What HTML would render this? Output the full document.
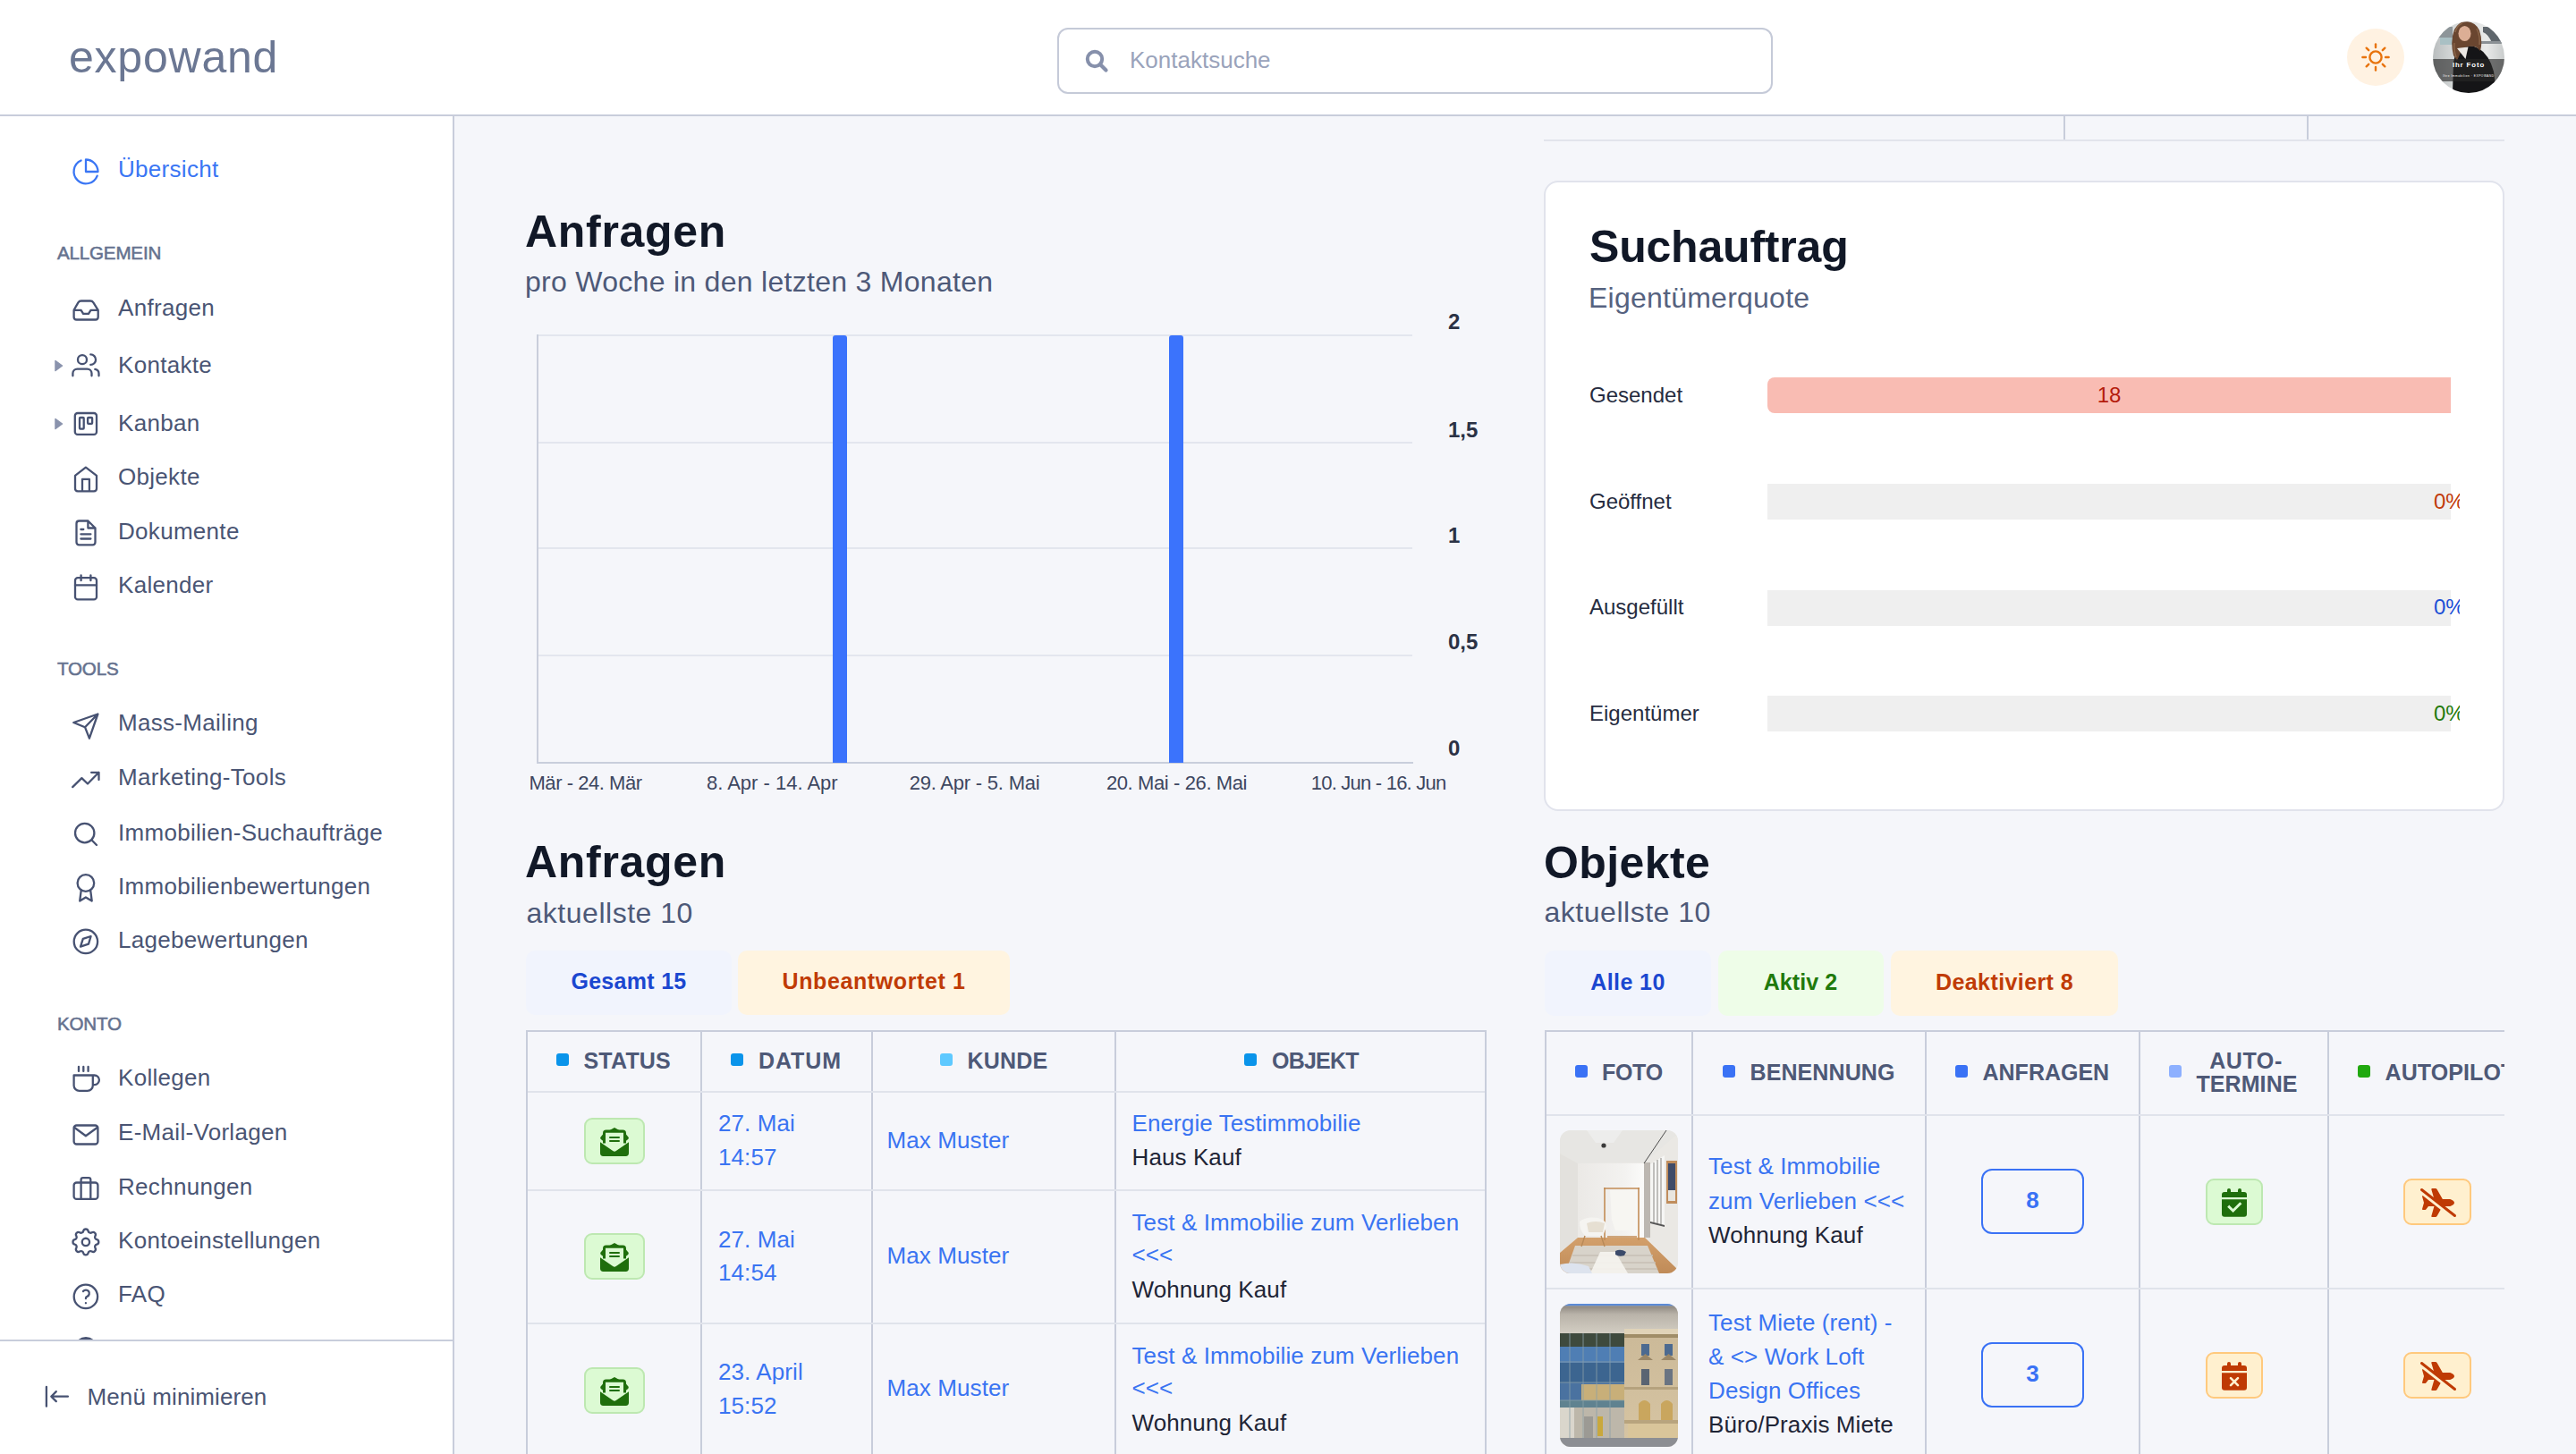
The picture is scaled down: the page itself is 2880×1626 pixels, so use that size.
<!DOCTYPE html>
<html lang="de"><head><meta charset="utf-8"><title>expowand – Übersicht</title>
<style>
html,body{margin:0;padding:0;}
body{width:2880px;height:1626px;overflow:hidden;position:relative;background:#f5f6fa;font-family:"Liberation Sans",Arial,sans-serif;}
.t{position:absolute;white-space:nowrap;line-height:1;}
.r{position:absolute;box-sizing:border-box;}
svg.r{overflow:visible;}
.ic{fill:none;stroke-linecap:round;stroke-linejoin:round;}
@media (max-width:1600px){body{zoom:0.5;}}
</style></head><body>

<div class="r" style="left:1726px;top:156px;width:1074px;height:2px;background:#e2e4ec;"></div>
<div class="r" style="left:2307px;top:128px;width:2px;height:28px;background:#c8cddb;"></div>
<div class="r" style="left:2579px;top:128px;width:2px;height:28px;background:#c8cddb;"></div>
<div class="t" style="left:587.0px;top:233.7px;font-size:50px;color:#111827;font-weight:700;letter-spacing:0.7px;">Anfragen</div>
<div class="t" style="left:587.0px;top:298.9px;font-size:32px;color:#4d5978;letter-spacing:0.29px;">pro Woche in den letzten 3 Monaten</div>
<div class="r" style="left:600px;top:374px;width:979px;height:2px;background:#e3e6ee;"></div>
<div class="r" style="left:600px;top:494px;width:979px;height:2px;background:#e3e6ee;"></div>
<div class="r" style="left:600px;top:612px;width:979px;height:2px;background:#e3e6ee;"></div>
<div class="r" style="left:600px;top:732px;width:979px;height:2px;background:#e3e6ee;"></div>
<div class="r" style="left:600px;top:852px;width:980px;height:2px;background:#c9cedb;"></div>
<div class="r" style="left:600px;top:374px;width:2px;height:480px;background:#c9cedb;"></div>
<div class="r" style="left:931px;top:375px;width:16px;height:478px;background:#3b73fc;border-radius:3px 3px 0 0;"></div>
<div class="r" style="left:1307px;top:375px;width:16px;height:478px;background:#3b73fc;border-radius:3px 3px 0 0;"></div>
<div class="t" style="left:1619.0px;top:347.7px;font-size:24px;color:#2b3245;font-weight:700;">2</div>
<div class="t" style="left:1619.0px;top:468.7px;font-size:24px;color:#2b3245;font-weight:700;">1,5</div>
<div class="t" style="left:1619.0px;top:586.7px;font-size:24px;color:#2b3245;font-weight:700;">1</div>
<div class="t" style="left:1619.0px;top:705.7px;font-size:24px;color:#2b3245;font-weight:700;">0,5</div>
<div class="t" style="left:1619.0px;top:824.7px;font-size:24px;color:#2b3245;font-weight:700;">0</div>
<div class="t" style="left:363.3px;width:1000px;text-align:center;top:865.4px;font-size:22px;color:#3d4660;letter-spacing:0px;">8. Apr - 14. Apr</div>
<div class="t" style="left:589.6px;width:1000px;text-align:center;top:865.4px;font-size:22px;color:#3d4660;letter-spacing:-0.21px;">29. Apr - 5. Mai</div>
<div class="t" style="left:815.5px;width:1000px;text-align:center;top:865.4px;font-size:22px;color:#3d4660;letter-spacing:-0.39px;">20. Mai - 26. Mai</div>
<div class="t" style="left:1041.1px;width:1000px;text-align:center;top:865.4px;font-size:22px;color:#3d4660;letter-spacing:-0.78px;">10. Jun - 16. Jun</div>
<div class="t" style="left:591.5px;top:865.4px;font-size:22px;color:#3d4660;letter-spacing:-0.46px;">Mär - 24. Mär</div>
<div class="r" style="left:1726px;top:202px;width:1074px;height:705px;background:#fff;border:2px solid #e1e3ec;border-radius:16px;"></div>
<div class="t" style="left:1777.0px;top:250.7px;font-size:50px;color:#111827;font-weight:700;letter-spacing:-0.2px;">Suchauftrag</div>
<div class="t" style="left:1776.0px;top:316.9px;font-size:32px;color:#56627f;letter-spacing:0.24px;">Eigentümerquote</div>
<div class="t" style="left:1777.0px;top:430.2px;font-size:24px;color:#262c40;font-family:"Liberation Sans",Arial,sans-serif;">Gesendet</div>
<div class="r" style="left:1976px;top:422px;width:764px;height:40px;background:#f9bcb3;border-radius:8px 0 0 8px;"></div>
<div class="t" style="left:1858.0px;width:1000px;text-align:center;top:430.2px;font-size:24px;color:#b41b0c;">18</div>
<div class="t" style="left:1777.0px;top:549.0px;font-size:24px;color:#262c40;font-family:"Liberation Sans",Arial,sans-serif;">Geöffnet</div>
<div class="r" style="left:1976px;top:541px;width:764px;height:40px;background:#efefef;"></div>
<div class="r" style="left:2721px;top:541px;width:29px;height:40px;overflow:hidden;"><div class="t" style="left:0;top:8.0px;font-size:24px;color:#c13a0a;">0%</div></div>
<div class="t" style="left:1777.0px;top:667.3px;font-size:24px;color:#262c40;font-family:"Liberation Sans",Arial,sans-serif;">Ausgefüllt</div>
<div class="r" style="left:1976px;top:660px;width:764px;height:40px;background:#efefef;"></div>
<div class="r" style="left:2721px;top:660px;width:29px;height:40px;overflow:hidden;"><div class="t" style="left:0;top:7.3px;font-size:24px;color:#1b4fd6;">0%</div></div>
<div class="t" style="left:1777.0px;top:786.0px;font-size:24px;color:#262c40;font-family:"Liberation Sans",Arial,sans-serif;">Eigentümer</div>
<div class="r" style="left:1976px;top:778px;width:764px;height:40px;background:#efefef;"></div>
<div class="r" style="left:2721px;top:778px;width:29px;height:40px;overflow:hidden;"><div class="t" style="left:0;top:8.0px;font-size:24px;color:#1f7a0b;">0%</div></div>
<div class="t" style="left:587.0px;top:938.7px;font-size:50px;color:#111827;font-weight:700;letter-spacing:0.7px;">Anfragen</div>
<div class="t" style="left:588.5px;top:1004.9px;font-size:32px;color:#4d5978;letter-spacing:0.52px;">aktuellste 10</div>
<div class="r" style="left:588px;top:1063px;width:230px;height:72px;background:#f1f4fd;border-radius:10px;"></div>
<div class="r" style="left:825px;top:1063px;width:304px;height:72px;background:#fff4e0;border-radius:10px;"></div>
<div class="t" style="left:203.0px;width:1000px;text-align:center;top:1084.8px;font-size:25px;color:#1b47d0;font-weight:700;letter-spacing:0.3px;">Gesamt 15</div>
<div class="t" style="left:477.0px;width:1000px;text-align:center;top:1084.8px;font-size:25px;color:#c03b06;font-weight:700;letter-spacing:0.6px;">Unbeantwortet 1</div>
<div class="t" style="left:1726.0px;top:939.7px;font-size:50px;color:#111827;font-weight:700;letter-spacing:0.4px;">Objekte</div>
<div class="t" style="left:1726.5px;top:1004.4px;font-size:32px;color:#4d5978;letter-spacing:0.52px;">aktuellste 10</div>
<div class="r" style="left:1727px;top:1063px;width:186px;height:73px;background:#f1f4fd;border-radius:10px;"></div>
<div class="r" style="left:1921px;top:1063px;width:185px;height:73px;background:#eefde8;border-radius:10px;"></div>
<div class="r" style="left:2114px;top:1063px;width:254px;height:73px;background:#fff4e0;border-radius:10px;"></div>
<div class="t" style="left:1320.0px;width:1000px;text-align:center;top:1085.8px;font-size:25px;color:#1b47d0;font-weight:700;letter-spacing:0.4px;">Alle 10</div>
<div class="t" style="left:1513.0px;width:1000px;text-align:center;top:1085.8px;font-size:25px;color:#1f7a0c;font-weight:700;letter-spacing:0.1px;">Aktiv 2</div>
<div class="t" style="left:1741.0px;width:1000px;text-align:center;top:1085.8px;font-size:25px;color:#c03b06;font-weight:700;letter-spacing:0.4px;">Deaktiviert 8</div>
<div class="r" style="left:588px;top:1152px;width:2px;height:474px;background:#c8cddb;"></div>
<div class="r" style="left:783px;top:1152px;width:2px;height:474px;background:#c8cddb;"></div>
<div class="r" style="left:974px;top:1152px;width:2px;height:474px;background:#c8cddb;"></div>
<div class="r" style="left:1246px;top:1152px;width:2px;height:474px;background:#c8cddb;"></div>
<div class="r" style="left:1660px;top:1152px;width:2px;height:474px;background:#c8cddb;"></div>
<div class="r" style="left:588px;top:1152px;width:1074px;height:2px;background:#c8cddb;"></div>
<div class="r" style="left:590px;top:1220px;width:1070px;height:2px;background:#e0e3eb;"></div>
<div class="r" style="left:590px;top:1330px;width:1070px;height:2px;background:#e0e3eb;"></div>
<div class="r" style="left:590px;top:1479px;width:1070px;height:2px;background:#e0e3eb;"></div>
<div class="r" style="left:622px;top:1177.7px;width:14px;height:14px;background:#0a94ea;border-radius:3px;"></div>
<div class="t" style="left:652.5px;top:1173.5px;font-size:25px;color:#4e5977;font-weight:700;letter-spacing:0.2px;">STATUS</div>
<div class="r" style="left:817px;top:1177.7px;width:14px;height:14px;background:#0a94ea;border-radius:3px;"></div>
<div class="t" style="left:848.0px;top:1173.5px;font-size:25px;color:#4e5977;font-weight:700;letter-spacing:0.9px;">DATUM</div>
<div class="r" style="left:1051px;top:1177.7px;width:14px;height:14px;background:#5ec9ff;border-radius:3px;"></div>
<div class="t" style="left:1081.5px;top:1173.5px;font-size:25px;color:#4e5977;font-weight:700;letter-spacing:0.2px;">KUNDE</div>
<div class="r" style="left:1391px;top:1177.7px;width:14px;height:14px;background:#0a94ea;border-radius:3px;"></div>
<div class="t" style="left:1422.0px;top:1173.5px;font-size:25px;color:#4e5977;font-weight:700;letter-spacing:-0.8px;">OBJEKT</div>
<div class="r" style="left:653px;top:1250px;width:68px;height:52px;background:#dcfad3;border:2px solid #bde8b1;border-radius:9px;"></div>
<svg class="r" style="left:671px;top:1261px;" width="32" height="32" viewBox="0 0 32 32"><path d="M16 0 L10.6 3 H21.4 Z" fill="#1f6e0c"/><path d="M6.6 2.6 H25.4 Q29 2.6 29 6.2 V17.5 H26 V5.8 H6 V17.5 H3 V6.2 Q3 2.6 6.6 2.6 Z" fill="#1f6e0c"/><path d="M3 7.6 L0.6 10.4 Q-0.4 11.8 0.8 12.9 L3 14.8 Z" fill="#1f6e0c"/><path d="M29 7.6 L31.4 10.4 Q32.4 11.8 31.2 12.9 L29 14.8 Z" fill="#1f6e0c"/><path d="M0 16.2 L14.2 26 Q16 27.3 17.8 26 L32 16.2 V28.6 Q32 32 28.6 32 H3.4 Q0 32 0 28.6 Z" fill="#1f6e0c"/><rect x="10" y="9.9" width="12" height="2" rx="1" fill="#1f6e0c"/><rect x="10" y="14" width="12" height="2" rx="1" fill="#1f6e0c"/></svg>
<div class="t" style="left:803.0px;top:1243.0px;font-size:26px;color:#3a74f2;letter-spacing:0.1px;">27. Mai</div>
<div class="t" style="left:803.0px;top:1281.0px;font-size:26px;color:#3a74f2;letter-spacing:0.1px;">14:57</div>
<div class="t" style="left:991.5px;top:1262.3px;font-size:26px;color:#3a74f2;letter-spacing:0.1px;">Max Muster</div>
<div class="t" style="left:1265.5px;top:1243.0px;font-size:26px;color:#3a74f2;letter-spacing:0.1px;">Energie Testimmobilie</div>
<div class="t" style="left:1265.5px;top:1281.0px;font-size:26px;color:#1f2536;letter-spacing:0.1px;">Haus Kauf</div>
<div class="r" style="left:653px;top:1379px;width:68px;height:52px;background:#dcfad3;border:2px solid #bde8b1;border-radius:9px;"></div>
<svg class="r" style="left:671px;top:1390px;" width="32" height="32" viewBox="0 0 32 32"><path d="M16 0 L10.6 3 H21.4 Z" fill="#1f6e0c"/><path d="M6.6 2.6 H25.4 Q29 2.6 29 6.2 V17.5 H26 V5.8 H6 V17.5 H3 V6.2 Q3 2.6 6.6 2.6 Z" fill="#1f6e0c"/><path d="M3 7.6 L0.6 10.4 Q-0.4 11.8 0.8 12.9 L3 14.8 Z" fill="#1f6e0c"/><path d="M29 7.6 L31.4 10.4 Q32.4 11.8 31.2 12.9 L29 14.8 Z" fill="#1f6e0c"/><path d="M0 16.2 L14.2 26 Q16 27.3 17.8 26 L32 16.2 V28.6 Q32 32 28.6 32 H3.4 Q0 32 0 28.6 Z" fill="#1f6e0c"/><rect x="10" y="9.9" width="12" height="2" rx="1" fill="#1f6e0c"/><rect x="10" y="14" width="12" height="2" rx="1" fill="#1f6e0c"/></svg>
<div class="t" style="left:803.0px;top:1372.7px;font-size:26px;color:#3a74f2;letter-spacing:0.1px;">27. Mai</div>
<div class="t" style="left:803.0px;top:1410.3px;font-size:26px;color:#3a74f2;letter-spacing:0.1px;">14:54</div>
<div class="t" style="left:991.5px;top:1391.0px;font-size:26px;color:#3a74f2;letter-spacing:0.1px;">Max Muster</div>
<div class="t" style="left:1265.5px;top:1353.5px;font-size:26px;color:#3a74f2;letter-spacing:0.1px;">Test &amp; Immobilie zum Verlieben</div>
<div class="t" style="left:1265.5px;top:1389.8px;font-size:26px;color:#3a74f2;letter-spacing:0.1px;">&lt;&lt;&lt;</div>
<div class="t" style="left:1265.5px;top:1428.5px;font-size:26px;color:#1f2536;letter-spacing:0.1px;">Wohnung Kauf</div>
<div class="r" style="left:653px;top:1528.5px;width:68px;height:52px;background:#dcfad3;border:2px solid #bde8b1;border-radius:9px;"></div>
<svg class="r" style="left:671px;top:1539.5px;" width="32" height="32" viewBox="0 0 32 32"><path d="M16 0 L10.6 3 H21.4 Z" fill="#1f6e0c"/><path d="M6.6 2.6 H25.4 Q29 2.6 29 6.2 V17.5 H26 V5.8 H6 V17.5 H3 V6.2 Q3 2.6 6.6 2.6 Z" fill="#1f6e0c"/><path d="M3 7.6 L0.6 10.4 Q-0.4 11.8 0.8 12.9 L3 14.8 Z" fill="#1f6e0c"/><path d="M29 7.6 L31.4 10.4 Q32.4 11.8 31.2 12.9 L29 14.8 Z" fill="#1f6e0c"/><path d="M0 16.2 L14.2 26 Q16 27.3 17.8 26 L32 16.2 V28.6 Q32 32 28.6 32 H3.4 Q0 32 0 28.6 Z" fill="#1f6e0c"/><rect x="10" y="9.9" width="12" height="2" rx="1" fill="#1f6e0c"/><rect x="10" y="14" width="12" height="2" rx="1" fill="#1f6e0c"/></svg>
<div class="t" style="left:803.0px;top:1521.3px;font-size:26px;color:#3a74f2;letter-spacing:0.1px;">23. April</div>
<div class="t" style="left:803.0px;top:1558.5px;font-size:26px;color:#3a74f2;letter-spacing:0.1px;">15:52</div>
<div class="t" style="left:991.5px;top:1539.0px;font-size:26px;color:#3a74f2;letter-spacing:0.1px;">Max Muster</div>
<div class="t" style="left:1265.5px;top:1503.0px;font-size:26px;color:#3a74f2;letter-spacing:0.1px;">Test &amp; Immobilie zum Verlieben</div>
<div class="t" style="left:1265.5px;top:1539.0px;font-size:26px;color:#3a74f2;letter-spacing:0.1px;">&lt;&lt;&lt;</div>
<div class="t" style="left:1265.5px;top:1577.5px;font-size:26px;color:#1f2536;letter-spacing:0.1px;">Wohnung Kauf</div>
<div class="r" style="left:1727px;top:1152px;width:1073px;height:474px;overflow:hidden;">
<div class="r" style="left:0px;top:0px;width:2px;height:474px;background:#c8cddb;"></div>
<div class="r" style="left:164px;top:0px;width:2px;height:474px;background:#c8cddb;"></div>
<div class="r" style="left:425px;top:0px;width:2px;height:474px;background:#c8cddb;"></div>
<div class="r" style="left:664px;top:0px;width:2px;height:474px;background:#c8cddb;"></div>
<div class="r" style="left:875px;top:0px;width:2px;height:474px;background:#c8cddb;"></div>
<div class="r" style="left:0px;top:0px;width:1080px;height:2px;background:#c8cddb;"></div>
<div class="r" style="left:2px;top:94px;width:1080px;height:2px;background:#e0e3eb;"></div>
<div class="r" style="left:2px;top:287.5px;width:1080px;height:2px;background:#e0e3eb;"></div>
<div class="r" style="left:33.5px;top:39px;width:14px;height:14px;background:#3a72f5;border-radius:3px;"></div>
<div class="t" style="left:64.0px;top:35.2px;font-size:25px;color:#4e5977;font-weight:700;letter-spacing:-0.3px;">FOTO</div>
<div class="r" style="left:198.5px;top:39px;width:14px;height:14px;background:#3a72f5;border-radius:3px;"></div>
<div class="t" style="left:229.5px;top:35.2px;font-size:25px;color:#4e5977;font-weight:700;letter-spacing:0.1px;">BENENNUNG</div>
<div class="r" style="left:459px;top:39px;width:14px;height:14px;background:#3a72f5;border-radius:3px;"></div>
<div class="t" style="left:489.5px;top:35.2px;font-size:25px;color:#4e5977;font-weight:700;letter-spacing:0.0px;">ANFRAGEN</div>
<div class="r" style="left:698px;top:39px;width:14px;height:14px;background:#8db0ff;border-radius:3px;"></div>
<div class="t" style="left:284.0px;width:1000px;text-align:center;top:22.2px;font-size:25px;color:#4e5977;font-weight:700;letter-spacing:0.6px;">AUTO-</div>
<div class="t" style="left:285.0px;width:1000px;text-align:center;top:48.3px;font-size:25px;color:#4e5977;font-weight:700;letter-spacing:0.1px;">TERMINE</div>
<div class="r" style="left:909px;top:39px;width:14px;height:14px;background:#21a90f;border-radius:3px;"></div>
<div class="t" style="left:939.5px;top:35.2px;font-size:25px;color:#4e5977;font-weight:700;letter-spacing:0.1px;">AUTOPILOT</div>
<svg class="r" style="left:17px;top:112px;" width="132" height="160" viewBox="0 0 132 160"><defs><clipPath id="p1c"><rect width="132" height="160" rx="12"/></clipPath>
<linearGradient id="p1bw" x1="0" y1="0" x2="1" y2="0"><stop offset="0" stop-color="#ebe9e6"/><stop offset="0.7" stop-color="#f3f2f0"/><stop offset="1" stop-color="#fbfbfa"/></linearGradient>
<linearGradient id="p1f" x1="0" y1="0" x2="0" y2="1"><stop offset="0" stop-color="#d3a06c"/><stop offset="1" stop-color="#c08b58"/></linearGradient></defs>
<g clip-path="url(#p1c)">
<rect width="132" height="160" fill="#eceae7"/>
<path d="M0 0 H132 V4 L95 36 L20 37 L0 26 Z" fill="#e7e6e3"/>
<path d="M30 0 H70 L60 14 L40 14 Z" fill="#efefed" opacity="0.8"/>
<rect x="20" y="37" width="75" height="83" fill="url(#p1bw)"/>
<path d="M0 26 L20 37 V120 L0 137 Z" fill="#e3e1dd"/>
<path d="M95 36 L132 4 V156 L95 118 Z" fill="#eae8e4"/>
<path d="M101 38 L117 28 V106 L101 102 Z" fill="#f6f6f4"/>
<path d="M105 36 V103 M109 33 V104 M113 31 V105" stroke="#9c9a96" stroke-width="1.2"/>
<path d="M101 102 L117 106 V108 L101 104 Z" fill="#555"/>
<rect x="94" y="36" width="7" height="84" fill="#bcb7b1"/>
<path d="M119 0 L94 37" stroke="#3a3a3a" stroke-width="0.9"/>
<rect x="119" y="34" width="12" height="48" fill="#c08d5c"/>
<rect x="121" y="37" width="8" height="30" fill="#3f4b68"/>
<rect x="121" y="67" width="8" height="12" fill="#e9e6df"/>
<path d="M0 137 L20 120 H95 L132 156 V160 H0 Z" fill="url(#p1f)"/>
<path d="M6 160 L17 129 H98 L111 160 Z" fill="#d8d3ca"/>
<path d="M14 140 H104 M11 148 H107 M9 155 H109" stroke="#c6c0b5" stroke-width="1.5"/>
<path d="M34 160 L45 136 H62 L76 160 Z" fill="#f6f4ef" opacity="0.9"/>
<path d="M50 64 V123 M88 64 V123 M49 65 H89 M53 119 H86" stroke="#c28c56" stroke-width="1.6" fill="none"/>
<path d="M56 67 H84 V96 L80 112 H62 L58 100 Z" fill="#f7f6f2"/>
<path d="M22 102 Q30 96 42 98 Q52 100 52 108 L48 118 H28 Q22 112 22 102 Z" fill="#f5f4f1"/>
<path d="M30 104 Q40 100 50 104 L48 114 H32 Z" fill="#e6dfd2"/>
<path d="M28 118 L24 130 M46 118 L50 130" stroke="#b98a58" stroke-width="1.4"/>
<circle cx="49" cy="17" r="2.6" fill="#3a3a3a"/>
<path d="M62 135 Q68 132 74 136 L72 140 Q66 142 62 139 Z" fill="#3b4a6a"/>
<path d="M0 150 Q16 146 32 152 L36 160 H0 Z" fill="#dde3ee"/>
</g></svg>
<svg class="r" style="left:17px;top:306px;" width="132" height="160" viewBox="0 0 132 160"><defs><clipPath id="p2c"><rect width="132" height="160" rx="12"/></clipPath>
<linearGradient id="p2can" x1="0" y1="0" x2="0" y2="1"><stop offset="0" stop-color="#8d8780"/><stop offset="0.3" stop-color="#b9b3a9"/><stop offset="1" stop-color="#d3cec3"/></linearGradient>
<linearGradient id="p2s" x1="0" y1="0" x2="0" y2="1"><stop offset="0" stop-color="#cbb998"/><stop offset="1" stop-color="#d6c4a2"/></linearGradient></defs>
<g clip-path="url(#p2c)">
<rect width="132" height="160" fill="#c7c2b8"/>
<rect x="0" y="0" width="132" height="2.5" fill="#5b8ad6"/>
<rect x="0" y="2.5" width="132" height="31" fill="url(#p2can)"/>
<rect x="0" y="33" width="72" height="15" fill="#3f4a3e"/>
<rect x="0" y="48" width="72" height="18" fill="#4f7fb4"/>
<rect x="0" y="66" width="72" height="22" fill="#3d6690"/>
<rect x="0" y="88" width="72" height="20" fill="#4a72a0"/>
<rect x="24" y="90" width="48" height="18" fill="#c8b07a"/>
<rect x="0" y="108" width="72" height="8" fill="#5f8290"/>
<rect x="0" y="116" width="72" height="34" fill="#bdb7aa"/>
<rect x="0" y="116" width="16" height="34" fill="#dad6cc"/>
<path d="M11 33 V150 M26 33 V150 M41 33 V150 M56 33 V150 M0 65 H72 M0 88 H72 M0 108 H72" stroke="#8aa0a8" stroke-width="1" opacity="0.8"/>
<rect x="27" y="126" width="10" height="24" fill="#9c9a94"/>
<rect x="42" y="126" width="6" height="22" fill="#c9a83c"/>
<rect x="72" y="28" width="60" height="122" fill="url(#p2s)"/>
<rect x="72" y="28" width="60" height="6" fill="#e0d3b8"/>
<rect x="72" y="34" width="60" height="4" fill="#a08d68"/>
<rect x="91" y="45" width="9" height="13" fill="#4c6a90"/><rect x="117" y="45" width="9" height="13" fill="#4c6a90"/>
<path d="M87 63 L95.5 56 L104 63 Z M113 63 L121.5 56 L130 63 Z" fill="#9a8666"/>
<rect x="91" y="73" width="9" height="18" fill="#5a6472"/><rect x="117" y="73" width="9" height="18" fill="#6a7482"/>
<rect x="72" y="93" width="60" height="3" fill="#b5a27e"/>
<path d="M88 130 V112 Q94.5 104 101 112 V130 Z M113 130 V112 Q119.5 104 126 112 V130 Z" fill="#c9a65e"/>
<rect x="72" y="130" width="60" height="4" fill="#b8a47e"/>
<rect x="76" y="134" width="56" height="16" fill="#d9c59a"/>
<rect x="0" y="150" width="132" height="10" fill="#8c8e93"/>
</g></svg>
<div class="t" style="left:183.0px;top:139.4px;font-size:26px;color:#3a74f2;letter-spacing:0.1px;">Test &amp; Immobilie</div>
<div class="t" style="left:183.0px;top:177.6px;font-size:26px;color:#3a74f2;letter-spacing:0.1px;">zum Verlieben &lt;&lt;&lt;</div>
<div class="t" style="left:183.0px;top:216.0px;font-size:26px;color:#1f2536;letter-spacing:0.1px;">Wohnung Kauf</div>
<div class="t" style="left:183.0px;top:313.5px;font-size:26px;color:#3a74f2;letter-spacing:0.1px;">Test Miete (rent) -</div>
<div class="t" style="left:183.0px;top:351.8px;font-size:26px;color:#3a74f2;letter-spacing:0.1px;">&amp; &lt;&gt; Work Loft</div>
<div class="t" style="left:183.0px;top:390.0px;font-size:26px;color:#3a74f2;letter-spacing:0.1px;">Design Offices</div>
<div class="t" style="left:183.0px;top:428.4px;font-size:26px;color:#1f2536;letter-spacing:0.1px;">Büro/Praxis Miete</div>
<div class="r" style="left:488px;top:154.5999999999999px;width:115px;height:73.4px;border:2px solid #3a72f5;border-radius:12px;"></div>
<div class="t" style="left:45.5px;width:1000px;text-align:center;top:176.6px;font-size:26px;color:#3a72f5;font-weight:700;">8</div>
<div class="r" style="left:488px;top:348.79999999999995px;width:115px;height:73.4px;border:2px solid #3a72f5;border-radius:12px;"></div>
<div class="t" style="left:45.5px;width:1000px;text-align:center;top:370.8px;font-size:26px;color:#3a72f5;font-weight:700;">3</div>
<div class="r" style="left:739px;top:165.79999999999995px;width:64px;height:52px;background:#dcfad3;border:2px solid #bde8b1;border-radius:9px;"></div>
<svg class="r" style="left:757px;top:177.0px;" width="28" height="32" viewBox="0 0 28 32"><rect x="6" y="0" width="4" height="7" rx="2" fill="#1f6e0c"/><rect x="18" y="0" width="4" height="7" rx="2" fill="#1f6e0c"/><path d="M0 7 Q0 4 3 4 H25 Q28 4 28 7 V10 H0 Z" fill="#1f6e0c"/><path d="M0 12.3 H28 V28.8 Q28 31.8 25 31.8 H3 Q0 31.8 0 28.8 Z" fill="#1f6e0c"/><path d="M8.3 20.7 L12.6 25 L20.3 17.3" stroke="#dcfad3" stroke-width="3" fill="none" stroke-linecap="square"/></svg>
<div class="r" style="left:739px;top:359.79999999999995px;width:64px;height:52px;background:#fff0cf;border:2px solid #ffc97d;border-radius:9px;"></div>
<svg class="r" style="left:757px;top:371.0px;" width="28" height="32" viewBox="0 0 28 32"><rect x="6" y="0" width="4" height="7" rx="2" fill="#bf3a04"/><rect x="18" y="0" width="4" height="7" rx="2" fill="#bf3a04"/><path d="M0 7 Q0 4 3 4 H25 Q28 4 28 7 V10 H0 Z" fill="#bf3a04"/><path d="M0 12.3 H28 V28.8 Q28 31.8 25 31.8 H3 Q0 31.8 0 28.8 Z" fill="#bf3a04"/><path d="M10 18.2 L18 26.2 M18 18.2 L10 26.2" stroke="#fff0cf" stroke-width="2.6" fill="none" stroke-linecap="round"/></svg>
<div class="r" style="left:960px;top:165.79999999999995px;width:76px;height:52px;background:#fff0cf;border:2px solid #ffc97d;border-radius:9px;"></div>
<svg class="r" style="left:978.5px;top:176.5999999999999px" width="40" height="32" viewBox="0 0 640 512"><path d="M514.3 192c34.2 0 93.7 29 93.7 64c0 36-59.5 64-93.7 64H440.6L630.8 469.1c10.4 8.2 12.3 23.3 4.1 33.7s-23.3 12.3-33.7 4.1L9.2 42.9C-1.2 34.7-3.1 19.6 5.1 9.2S28.4-3.1 38.8 5.1L238.1 161.3 197.8 20.4C194.9 10.2 202.6 0 213.2 0h56.2c11.5 0 22.1 6.2 27.8 16.1L397.7 192l116.6 0zM41.5 128.7l321 252.9L297.2 495.9c-5.7 10-16.3 16.1-27.8 16.1l-56.2 0c-10.6 0-18.3-10.2-15.4-20.4l49-171.6H144l-43.2 57.6c-3 4-7.8 6.4-12.8 6.4H46c-7.8 0-14-6.3-14-14c0-1.3 .2-2.6 .5-3.9L64 256 32.5 145.9c-.4-1.3-.5-2.6-.5-3.9c0-7.8 6.3-14 14-14H41.5z" fill="#bf3a04"/></svg>
<div class="r" style="left:960px;top:359.79999999999995px;width:76px;height:52px;background:#fff0cf;border:2px solid #ffc97d;border-radius:9px;"></div>
<svg class="r" style="left:978.5px;top:370.5999999999999px" width="40" height="32" viewBox="0 0 640 512"><path d="M514.3 192c34.2 0 93.7 29 93.7 64c0 36-59.5 64-93.7 64H440.6L630.8 469.1c10.4 8.2 12.3 23.3 4.1 33.7s-23.3 12.3-33.7 4.1L9.2 42.9C-1.2 34.7-3.1 19.6 5.1 9.2S28.4-3.1 38.8 5.1L238.1 161.3 197.8 20.4C194.9 10.2 202.6 0 213.2 0h56.2c11.5 0 22.1 6.2 27.8 16.1L397.7 192l116.6 0zM41.5 128.7l321 252.9L297.2 495.9c-5.7 10-16.3 16.1-27.8 16.1l-56.2 0c-10.6 0-18.3-10.2-15.4-20.4l49-171.6H144l-43.2 57.6c-3 4-7.8 6.4-12.8 6.4H46c-7.8 0-14-6.3-14-14c0-1.3 .2-2.6 .5-3.9L64 256 32.5 145.9c-.4-1.3-.5-2.6-.5-3.9c0-7.8 6.3-14 14-14H41.5z" fill="#bf3a04"/></svg>
</div>
<div class="r" style="left:0px;top:0px;width:2880px;height:128px;background:#fff;"></div>
<div class="r" style="left:0px;top:128px;width:2880px;height:2px;background:#c8cddb;"></div>
<div class="t" style="left:77.0px;top:38.7px;font-size:50px;color:#6b7793;letter-spacing:0.77px;">expowand</div>
<div class="r" style="left:1182px;top:31px;width:800px;height:74px;background:#fff;border:2px solid #c5cad8;border-radius:12px;"></div>
<svg class="r" style="left:1213px;top:55px;" width="27" height="27" viewBox="0 0 27 27"><circle cx="11" cy="11" r="8.2" fill="none" stroke="#8690ab" stroke-width="4"/><path d="M17 17 L23.5 23.5" stroke="#8690ab" stroke-width="4.2" stroke-linecap="round"/></svg>
<div class="t" style="left:1263.0px;top:54.2px;font-size:26px;color:#9aa3bb;">Kontaktsuche</div>
<div class="r" style="left:2624px;top:32px;width:64px;height:64px;background:#fff2e2;border-radius:50%;"></div>
<svg class="r" style="left:2640px;top:48px;" width="32" height="32" viewBox="0 0 32 32"><circle cx="16" cy="16" r="6.6" class="ic" stroke="#e8730c" stroke-width="2.4"/><line x1="27.00" y1="16.00" x2="30.60" y2="16.00" class="ic" stroke="#e8730c" stroke-width="2.4"/><line x1="23.78" y1="23.78" x2="26.32" y2="26.32" class="ic" stroke="#e8730c" stroke-width="2.4"/><line x1="16.00" y1="27.00" x2="16.00" y2="30.60" class="ic" stroke="#e8730c" stroke-width="2.4"/><line x1="8.22" y1="23.78" x2="5.68" y2="26.32" class="ic" stroke="#e8730c" stroke-width="2.4"/><line x1="5.00" y1="16.00" x2="1.40" y2="16.00" class="ic" stroke="#e8730c" stroke-width="2.4"/><line x1="8.22" y1="8.22" x2="5.68" y2="5.68" class="ic" stroke="#e8730c" stroke-width="2.4"/><line x1="16.00" y1="5.00" x2="16.00" y2="1.40" class="ic" stroke="#e8730c" stroke-width="2.4"/><line x1="23.78" y1="8.22" x2="26.32" y2="5.68" class="ic" stroke="#e8730c" stroke-width="2.4"/></svg>
<svg class="r" style="left:2720px;top:24px" width="80" height="80" viewBox="0 0 80 80"><defs><clipPath id="avc"><circle cx="40" cy="40" r="40"/></clipPath>
<linearGradient id="avbg" x1="0" y1="0" x2="1" y2="0"><stop offset="0" stop-color="#b9bdbe"/><stop offset="0.3" stop-color="#d6d9d9"/><stop offset="0.75" stop-color="#e8e9e8"/><stop offset="1" stop-color="#c9cccc"/></linearGradient></defs>
<g clip-path="url(#avc)">
<rect width="80" height="80" fill="url(#avbg)"/>
<rect x="0" y="6" width="22" height="12" fill="#8d9599"/>
<rect x="8" y="18" width="14" height="8" fill="#a9c0c4"/>
<path d="M56 6 H80 V24 H66 Q62 14 56 12 Z" fill="#5f666c"/>
<rect x="54" y="22" width="26" height="3" fill="#8a9094"/>
<path d="M22 80 L23 46 Q25 31 34 27.5 Q44 26 51 30 Q63 37 68 56 L71 80 Z" fill="#151517"/>
<path d="M23 38 Q19 22 24 9 Q30 -1 38 0 Q48 1 52 10 Q56 22 53 33 L49 29 Q42 26 33 30 L27 44 Z" fill="#6a4630"/>
<path d="M25 12 Q27 4 33 2 M49 8 Q53 16 52 26 M24 24 Q23 32 26 40" stroke="#8a6448" stroke-width="1.5" fill="none"/>
<ellipse cx="35.5" cy="13.5" rx="7" ry="8.6" fill="#dcae95"/>
<path d="M27 30 L36.5 42 L39.5 28.5 Z" fill="#ece8e4"/>
<rect x="0" y="42" width="80" height="25" fill="#262626" opacity="0.62"/>
</g><text x="40" y="51.2" text-anchor="middle" font-family="Liberation Sans" font-weight="700" font-size="7.8" fill="#fff" letter-spacing="0.9">Ihr Foto</text><text x="40" y="62" text-anchor="middle" font-family="Liberation Sans" font-size="3.2" fill="#fff" letter-spacing="0.55">Ihre Immobilien · EXPOWAND</text></svg>
<div class="r" style="left:0px;top:130px;width:506px;height:1496px;background:#fff;"></div>
<div class="r" style="left:506px;top:128px;width:2px;height:1498px;background:#c8cddb;"></div>
<div class="t" style="left:132.0px;top:176.0px;font-size:26px;color:#3a76f4;letter-spacing:0.3px;">Übersicht</div>
<div class="t" style="left:132.0px;top:331.0px;font-size:26px;color:#4a5574;letter-spacing:0.3px;">Anfragen</div>
<div class="t" style="left:132.0px;top:395.0px;font-size:26px;color:#4a5574;letter-spacing:0.3px;">Kontakte</div>
<div class="t" style="left:132.0px;top:460.0px;font-size:26px;color:#4a5574;letter-spacing:0.3px;">Kanban</div>
<div class="t" style="left:132.0px;top:520.0px;font-size:26px;color:#4a5574;letter-spacing:0.3px;">Objekte</div>
<div class="t" style="left:132.0px;top:581.0px;font-size:26px;color:#4a5574;letter-spacing:0.3px;">Dokumente</div>
<div class="t" style="left:132.0px;top:641.0px;font-size:26px;color:#4a5574;letter-spacing:0.3px;">Kalender</div>
<div class="t" style="left:132.0px;top:795.0px;font-size:26px;color:#4a5574;letter-spacing:0.3px;">Mass-Mailing</div>
<div class="t" style="left:132.0px;top:856.0px;font-size:26px;color:#4a5574;letter-spacing:0.3px;">Marketing-Tools</div>
<div class="t" style="left:132.0px;top:917.5px;font-size:26px;color:#4a5574;letter-spacing:0.3px;">Immobilien-Suchaufträge</div>
<div class="t" style="left:132.0px;top:977.5px;font-size:26px;color:#4a5574;letter-spacing:0.3px;">Immobilienbewertungen</div>
<div class="t" style="left:132.0px;top:1038.0px;font-size:26px;color:#4a5574;letter-spacing:0.3px;">Lagebewertungen</div>
<div class="t" style="left:132.0px;top:1192.0px;font-size:26px;color:#4a5574;letter-spacing:0.3px;">Kollegen</div>
<div class="t" style="left:132.0px;top:1253.0px;font-size:26px;color:#4a5574;letter-spacing:0.3px;">E-Mail-Vorlagen</div>
<div class="t" style="left:132.0px;top:1313.5px;font-size:26px;color:#4a5574;letter-spacing:0.3px;">Rechnungen</div>
<div class="t" style="left:132.0px;top:1374.0px;font-size:26px;color:#4a5574;letter-spacing:0.3px;">Kontoeinstellungen</div>
<div class="t" style="left:132.0px;top:1434.0px;font-size:26px;color:#4a5574;letter-spacing:0.3px;">FAQ</div>
<div class="t" style="left:64.0px;top:272.6px;font-size:20.6px;color:#66728f;letter-spacing:-0.2px;-webkit-text-stroke:0.55px #66728f;">ALLGEMEIN</div>
<div class="t" style="left:64.0px;top:737.6px;font-size:20.6px;color:#66728f;letter-spacing:-0.2px;-webkit-text-stroke:0.55px #66728f;">TOOLS</div>
<div class="t" style="left:64.0px;top:1134.6px;font-size:20.6px;color:#66728f;letter-spacing:-0.2px;-webkit-text-stroke:0.55px #66728f;">KONTO</div>
<svg class="r" style="left:60px;top:401.5px;" width="12" height="14" viewBox="0 0 12 14"><path d="M2 1.5 L9.5 7 L2 12.5 Z" fill="#8a93ad" stroke="#8a93ad" stroke-width="1.5" stroke-linejoin="round"/></svg>
<svg class="r" style="left:60px;top:467px;" width="12" height="14" viewBox="0 0 12 14"><path d="M2 1.5 L9.5 7 L2 12.5 Z" fill="#8a93ad" stroke="#8a93ad" stroke-width="1.5" stroke-linejoin="round"/></svg>
<svg class="r" style="left:0;top:0" width="505" height="1626" viewBox="0 0 505 1626"><path stroke="#3a76f4" stroke-width="2.3" fill="none" stroke-linecap="round" stroke-linejoin="round" d="M90.6 179.5 A13.5 13.5 0 1 0 108.7 196.6"/><path stroke="#3a76f4" stroke-width="2.3" fill="none" stroke-linecap="round" stroke-linejoin="round" d="M96 178.5 V192 H109.5 A13.5 13.5 0 0 0 96 178.5 Z"/><path stroke="#475272" stroke-width="2.3" fill="none" stroke-linecap="round" stroke-linejoin="round" d="M82.6 346.8 L87.4 338.4 Q88.6 336.5 90.8 336.5 H101 Q103.2 336.5 104.4 338.4 L109.7 346.8 V354.5 Q109.7 357.5 106.7 357.5 H85.6 Q82.6 357.5 82.6 354.5 Z M82.6 346.8 H90.6 L93.1 350.9 H99 L101.5 346.8 H109.7"/><circle stroke="#475272" stroke-width="2.3" fill="none" stroke-linecap="round" stroke-linejoin="round" cx="92" cy="402.2" r="5"/><path stroke="#475272" stroke-width="2.3" fill="none" stroke-linecap="round" stroke-linejoin="round" d="M81.4 420.3 V417.6 A5 5 0 0 1 86.4 412.6 H97.5 A5 5 0 0 1 102.5 417.6 V420.3"/><path stroke="#475272" stroke-width="2.3" fill="none" stroke-linecap="round" stroke-linejoin="round" d="M101.3 396.4 A5.7 5.7 0 0 1 101.3 407.9"/><path stroke="#475272" stroke-width="2.3" fill="none" stroke-linecap="round" stroke-linejoin="round" d="M106.3 412.9 A5 5 0 0 1 110.5 417.8 V420.3"/><rect stroke="#475272" stroke-width="2.3" fill="none" stroke-linecap="round" stroke-linejoin="round" x="83.8" y="462" width="24.2" height="23.9" rx="3"/><rect stroke="#475272" stroke-width="2.3" fill="none" stroke-linecap="round" stroke-linejoin="round" x="89" y="467" width="4.7" height="12.6" rx="0.8"/><rect stroke="#475272" stroke-width="2.3" fill="none" stroke-linecap="round" stroke-linejoin="round" x="98.1" y="467" width="5" height="6.9" rx="0.8"/><path stroke="#475272" stroke-width="2.3" fill="none" stroke-linecap="round" stroke-linejoin="round" d="M87 549.3 H105 Q108 549.3 108 546.3 V531.8 L95.9 522.6 L84 531.8 V546.3 Q84 549.3 87 549.3 Z M92 549.3 V535.9 H99.9 V549.3"/><path stroke="#475272" stroke-width="2.3" fill="none" stroke-linecap="round" stroke-linejoin="round" d="M98.4 582.5 H88.5 Q85.5 582.5 85.5 585.5 V606.3 Q85.5 609.3 88.5 609.3 H103.5 Q106.5 609.3 106.5 606.3 V590.5 Z M98.4 582.5 V590.5 H106.5 M90.4 592 H93.3 M90.4 597.3 H101.4 M90.4 602.5 H101.4"/><rect stroke="#475272" stroke-width="2.3" fill="none" stroke-linecap="round" stroke-linejoin="round" x="84" y="646.2" width="24" height="24.2" rx="3"/><path stroke="#475272" stroke-width="2.3" fill="none" stroke-linecap="round" stroke-linejoin="round" d="M84 654.3 H108 M90.6 643.3 V649.2 M101.4 643.3 V649.2"/><path stroke="#475272" stroke-width="2.3" fill="none" stroke-linecap="round" stroke-linejoin="round" d="M109.4 798.5 L82.3 808 L95 813.2 L99.9 825.7 Z M95 813.2 L109.4 798.5"/><path stroke="#475272" stroke-width="2.3" fill="none" stroke-linecap="round" stroke-linejoin="round" d="M81.2 880.1 L91.4 870.2 L98 876.5 L110.5 863.8 M102.1 863.8 H110.5 V872.1"/><circle stroke="#475272" stroke-width="2.3" fill="none" stroke-linecap="round" stroke-linejoin="round" cx="94.7" cy="931.6" r="10.7"/><path stroke="#475272" stroke-width="2.3" fill="none" stroke-linecap="round" stroke-linejoin="round" d="M102.6 939.5 L108 945"/><circle stroke="#475272" stroke-width="2.3" fill="none" stroke-linecap="round" stroke-linejoin="round" cx="95.9" cy="987.5" r="9.3"/><path stroke="#475272" stroke-width="2.3" fill="none" stroke-linecap="round" stroke-linejoin="round" d="M90.7 995.9 L89.2 1007.5 L95.9 1003.4 L102.7 1007.5 L101.2 995.9"/><circle stroke="#475272" stroke-width="2.3" fill="none" stroke-linecap="round" stroke-linejoin="round" cx="95.9" cy="1052.9" r="13.2"/><path stroke="#475272" stroke-width="2.3" fill="none" stroke-linecap="round" stroke-linejoin="round" d="M101.6 1047 L92.8 1049.9 L90 1058.7 L99 1055.7 Z"/><path stroke="#475272" stroke-width="2.3" fill="none" stroke-linecap="round" stroke-linejoin="round" d="M82.6 1202.5 H103.8 V1214 A6 6 0 0 1 97.8 1219.9 H88.6 A6 6 0 0 1 82.6 1214 Z M103.8 1202.5 H105.6 A5.3 5.3 0 0 1 105.6 1213.1 H103.8 M88 1192.9 V1197.9 M93.3 1192.9 V1197.9 M98.6 1192.9 V1197.9"/><rect stroke="#475272" stroke-width="2.3" fill="none" stroke-linecap="round" stroke-linejoin="round" x="82.6" y="1258.5" width="26.8" height="21" rx="3"/><path stroke="#475272" stroke-width="2.3" fill="none" stroke-linecap="round" stroke-linejoin="round" d="M83 1260.8 L95.9 1270.3 L109 1260.8"/><rect stroke="#475272" stroke-width="2.3" fill="none" stroke-linecap="round" stroke-linejoin="round" x="82.6" y="1322.5" width="26.8" height="18.4" rx="3"/><path stroke="#475272" stroke-width="2.3" fill="none" stroke-linecap="round" stroke-linejoin="round" d="M90.6 1340.9 V1319.3 Q90.6 1317.1 92.8 1317.1 H99.1 Q101.3 1317.1 101.3 1319.3 V1340.9"/><g transform="translate(76.7 1369.7) scale(1.6)"><path vector-effect="non-scaling-stroke" stroke="#475272" stroke-width="2.3" fill="none" stroke-linecap="round" stroke-linejoin="round" d="M10.325 4.317c.426 -1.756 2.924 -1.756 3.35 0a1.724 1.724 0 0 0 2.573 1.066c1.543 -.94 3.31 .826 2.37 2.37a1.724 1.724 0 0 0 1.065 2.572c1.756 .426 1.756 2.924 0 3.35a1.724 1.724 0 0 0 -1.066 2.573c.94 1.543 -.826 3.31 -2.37 2.37a1.724 1.724 0 0 0 -2.572 1.065c-.426 1.756 -2.924 1.756 -3.35 0a1.724 1.724 0 0 0 -2.573 -1.066c-1.543 .94 -3.31 -.826 -2.37 -2.37a1.724 1.724 0 0 0 -1.065 -2.572c-1.756 -.426 -1.756 -2.924 0 -3.35a1.724 1.724 0 0 0 1.066 -2.573c-.94 -1.543 .826 -3.31 2.37 -2.37c1 .608 2.296 .07 2.572 -1.065z"/><circle vector-effect="non-scaling-stroke" stroke="#475272" stroke-width="2.3" fill="none" stroke-linecap="round" stroke-linejoin="round" cx="12" cy="12" r="2.6"/></g><circle stroke="#475272" stroke-width="2.3" fill="none" stroke-linecap="round" stroke-linejoin="round" cx="95.9" cy="1449.9" r="13.2"/><g transform="translate(78.3 1432.3) scale(1.467)"><path vector-effect="non-scaling-stroke" stroke="#475272" stroke-width="2.3" fill="none" stroke-linecap="round" stroke-linejoin="round" d="M12 17l0 .01 M12 13.5a1.5 1.5 0 0 1 1 -1.5a2.6 2.6 0 1 0 -3 -4"/></g></svg>
<div class="r" style="left:80px;top:1480px;width:32px;height:18px;overflow:hidden;"><div class="r" style="left:3px;top:15.2px;width:26px;height:26px;border-radius:50%;background:#475272;"></div></div>
<div class="r" style="left:0px;top:1498px;width:506px;height:2px;background:#c8cddb;"></div>
<svg class="r" style="left:0;top:1540px" width="90" height="40" viewBox="0 1540 90 40"><path stroke="#475272" stroke-width="2.3" fill="none" stroke-linecap="round" stroke-linejoin="round" d="M51.9 1551 V1572.7 M57.3 1561.7 H75.9 M62.8 1556.1 L57.3 1561.7 L62.8 1567.1"/></svg>
<div class="t" style="left:97.5px;top:1549.0px;font-size:26px;color:#4a5574;letter-spacing:0.1px;">Menü minimieren</div>
</body></html>
